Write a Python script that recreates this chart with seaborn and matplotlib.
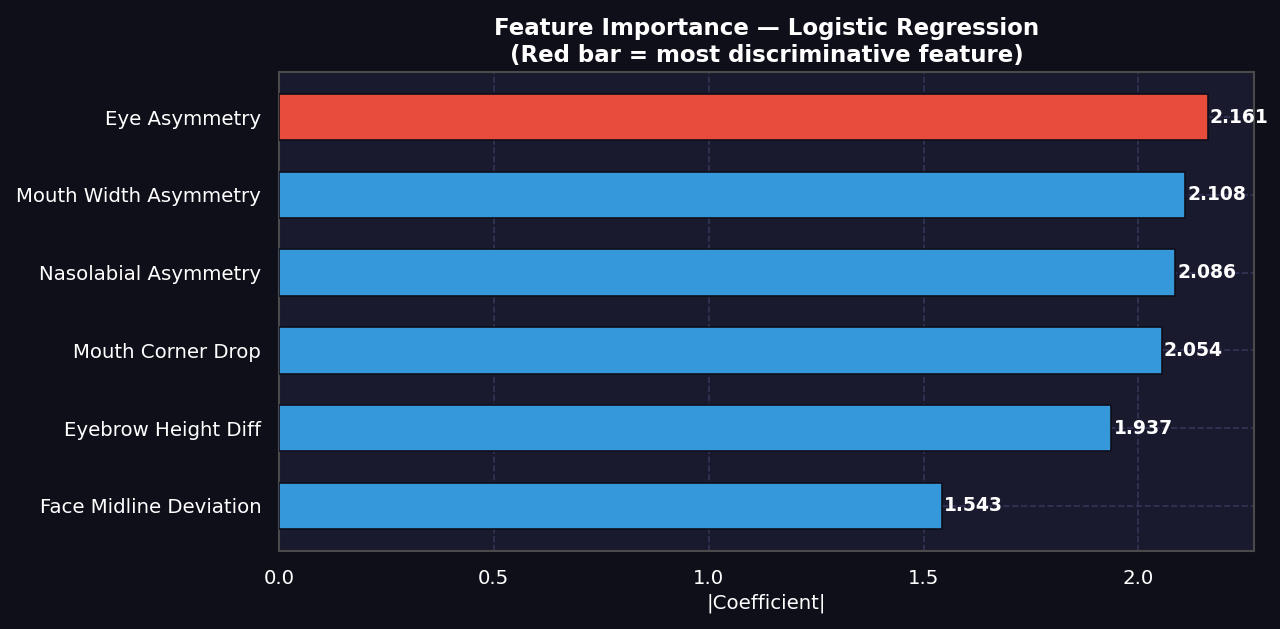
import matplotlib
matplotlib.use("Agg")
import matplotlib.pyplot as plt
import seaborn as sns
import pandas as pd

# feature importance values (|coef|), top feature first
features = ['Eye Asymmetry', 'Mouth Width Asymmetry', 'Nasolabial Asymmetry',
            'Mouth Corner Drop', 'Eyebrow Height Diff', 'Face Midline Deviation']
importance = [2.161, 2.108, 2.086, 2.054, 1.937, 1.543]

fig_bg = '#0f0f1a'
ax_bg = '#1a1a2e'
red = '#e74c3c'
blue = '#3498db'

df = pd.DataFrame({'feature': features, 'importance': importance})
colors = [red] + [blue] * (len(features) - 1)

sns.set_style("dark")
fig = plt.figure(figsize=(1281 / 150, 629 / 150), dpi=150, facecolor=fig_bg)
ax = fig.add_axes([0.2178, 0.124, 0.979 - 0.2178, 0.8855 - 0.124])
ax.set_facecolor(ax_bg)

sns.barplot(data=df, x='importance', y='feature', hue='feature', palette=colors,
            legend=False, width=0.6, edgecolor='#0f0f1a', linewidth=0.8, ax=ax,
            saturation=1, zorder=3)

# value labels at the end of each bar
for i, v in enumerate(importance):
    ax.text(v + 0.005, i, f'{v:.3f}', va='center', ha='left', color='white',
            fontsize=9, fontweight='bold', zorder=4)

ax.set_xlim(0, max(importance) * 1.05)
ax.set_ylim(len(features) - 0.5 + 0.08, -0.5 - 0.08)

ax.grid(True, color='#36365c', linestyle='--', linewidth=0.8, alpha=0.9, zorder=0)
ax.set_axisbelow(True)
for s in ax.spines.values():
    s.set_color('#4a4a4a')
    s.set_linewidth(1.0)
    s.set_visible(True)

ax.tick_params(colors='white', labelsize=9.5, length=0, pad=8.5)
ax.set_ylabel('')
ax.set_xlabel('|Coefficient|', color='white', fontsize=9.5, labelpad=3)
ax.set_title('Feature Importance — Logistic Regression\n(Red bar = most discriminative feature)',
             color='white', fontsize=11, fontweight='bold', pad=5)

fig.savefig('out.png', dpi=150, facecolor=fig_bg)
